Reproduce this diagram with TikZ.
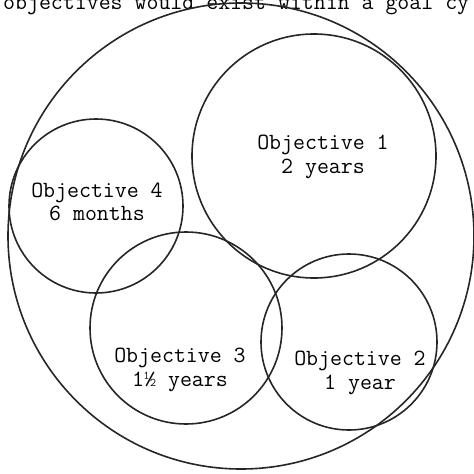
\documentclass[tikz,border=0pt]{standalone}
\usepackage{fontspec}
\begin{document}
\begin{tikzpicture}[x=1pt,y=-1pt,
  ring/.style={draw=black!85, line width=1.6pt},
  txt/.style={inner sep=0pt, font=\fontsize{23.2}{23.5}\selectfont\ttfamily},
  lbl/.style={txt, align=center}]
\useasboundingbox (0,0) rectangle (474,474);
\clip (0,0) rectangle (474,474);
\node[txt, anchor=base west] (cap) at (3,9) {objectives would exist within a goal cy};
\draw[ring] (241,236) circle[radius=233];
\draw[ring] (314,156) circle[radius=122];
\draw[ring] (96,206) circle[radius=87];
\draw[ring] (186,328) circle[radius=96];
\draw[ring] (349,342) circle[radius=88];
\node[lbl] (o1) at (323,157) {Objective 1\\2 years};
\node[lbl] (o4) at (97,202) {Objective 4\\6 months};
\node[lbl] (o3) at (180,370) {Objective 3\\1½ years};
\node[lbl] (o2) at (360,373) {Objective 2\\1 year};
\end{tikzpicture}
\end{document}
